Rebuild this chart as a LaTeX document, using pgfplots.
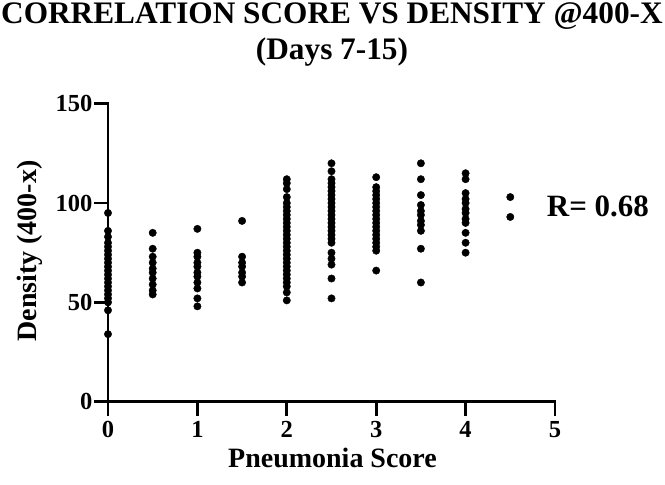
\documentclass[border=0pt]{standalone}
\usepackage{fontspec}
\setmainfont{Liberation Serif}
\usepackage{pgfplots}
\pgfplotsset{compat=1.18}
\pgfplotsset{major tick length=14pt}
\usepackage{pgfplotstable}
\pgfplotstableread{
x y
0 95
0 86
0 83
0 80
0 78
0 76
0 74
0 72
0 70
0 68
0 66
0 64
0 62
0 60
0 58
0 56
0 54
0 52
0 50
0 46
0 34
0.5 85
0.5 77
0.5 73
0.5 70
0.5 67
0.5 65
0.5 62
0.5 59
0.5 56
0.5 54
1 87
1 75
1 73
1 70
1 68
1 65
1 63
1 60
1 57
1 52
1 48
1.5 91
1.5 73
1.5 70
1.5 68
1.5 65
1.5 63
1.5 60
2 112
2 110
2 107
2 103
2 100
2 98
2 96
2 94
2 92
2 90
2 88
2 86
2 84
2 82
2 80
2 78
2 76
2 74
2 72
2 70
2 68
2 66
2 64
2 62
2 60
2 58
2 55
2 51
2.5 120
2.5 116
2.5 112
2.5 110
2.5 108
2.5 106
2.5 104
2.5 102
2.5 100
2.5 98
2.5 96
2.5 94
2.5 92
2.5 90
2.5 88
2.5 86
2.5 84
2.5 82
2.5 80
2.5 75
2.5 72
2.5 69
2.5 62
2.5 52
3 113
3 108
3 106
3 104
3 102
3 100
3 98
3 96
3 94
3 92
3 90
3 88
3 86
3 84
3 82
3 80
3 78
3 76
3 66
3.5 120
3.5 112
3.5 104
3.5 99
3.5 96
3.5 94
3.5 91
3.5 89
3.5 86
3.5 77
3.5 60
4 115
4 112
4 105
4 102
4 100
4 97
4 95
4 92
4 90
4 85
4 80
4 75
4.5 103
4.5 93
}\data
\begin{document}
\begin{tikzpicture}
\useasboundingbox (-108pt,-83.3pt) rectangle (557pt,401.7pt);
\begin{axis}[
  at={(0pt,0pt)}, anchor=origin,
  width=447pt, height=298pt, scale only axis,
  xmin=0, xmax=5, ymin=0, ymax=150,
  axis lines=left,
  axis line style={-, line width=2.8pt, line cap=rect},
  xtick={0,1,2,3,4,5}, ytick={0,50,100,150},
  tick align=outside, major tick length=14pt,
  tick style={line width=2.8pt, black},
  /pgf/number format/assume math mode=true,
  ticklabel style={font=\bfseries\fontsize{24.5}{24.5}\selectfont},
  xticklabel style={anchor=base, yshift=-22pt},
  yticklabel style={xshift=2pt},
  clip=false,
]
\addplot[only marks, mark=*, mark size=3.7pt, black] table {\data};
\end{axis}
\node[anchor=base, inner sep=0pt, font=\bfseries\fontsize{31.3}{31.3}\selectfont] at (224pt,377.7pt) {CORRELATION SCORE VS DENSITY @400-X};
\node[anchor=base, inner sep=0pt, font=\bfseries\fontsize{31.3}{31.3}\selectfont] at (224pt,342.4pt) {(Days 7-15)};
\node[anchor=base west, inner sep=0pt, font=\bfseries\fontsize{31}{31}\selectfont] at (438.7pt,185pt) {R= 0.68};
\node[anchor=base, inner sep=0pt, font=\bfseries\fontsize{28}{28}\selectfont] at (224.5pt,-66.3pt) {Pneumonia Score};
\node[anchor=base, rotate=90, inner sep=0pt, font=\bfseries\fontsize{28}{28}\selectfont] at (-71.3pt,150.7pt) {Density (400-x)};
\end{tikzpicture}
\end{document}
